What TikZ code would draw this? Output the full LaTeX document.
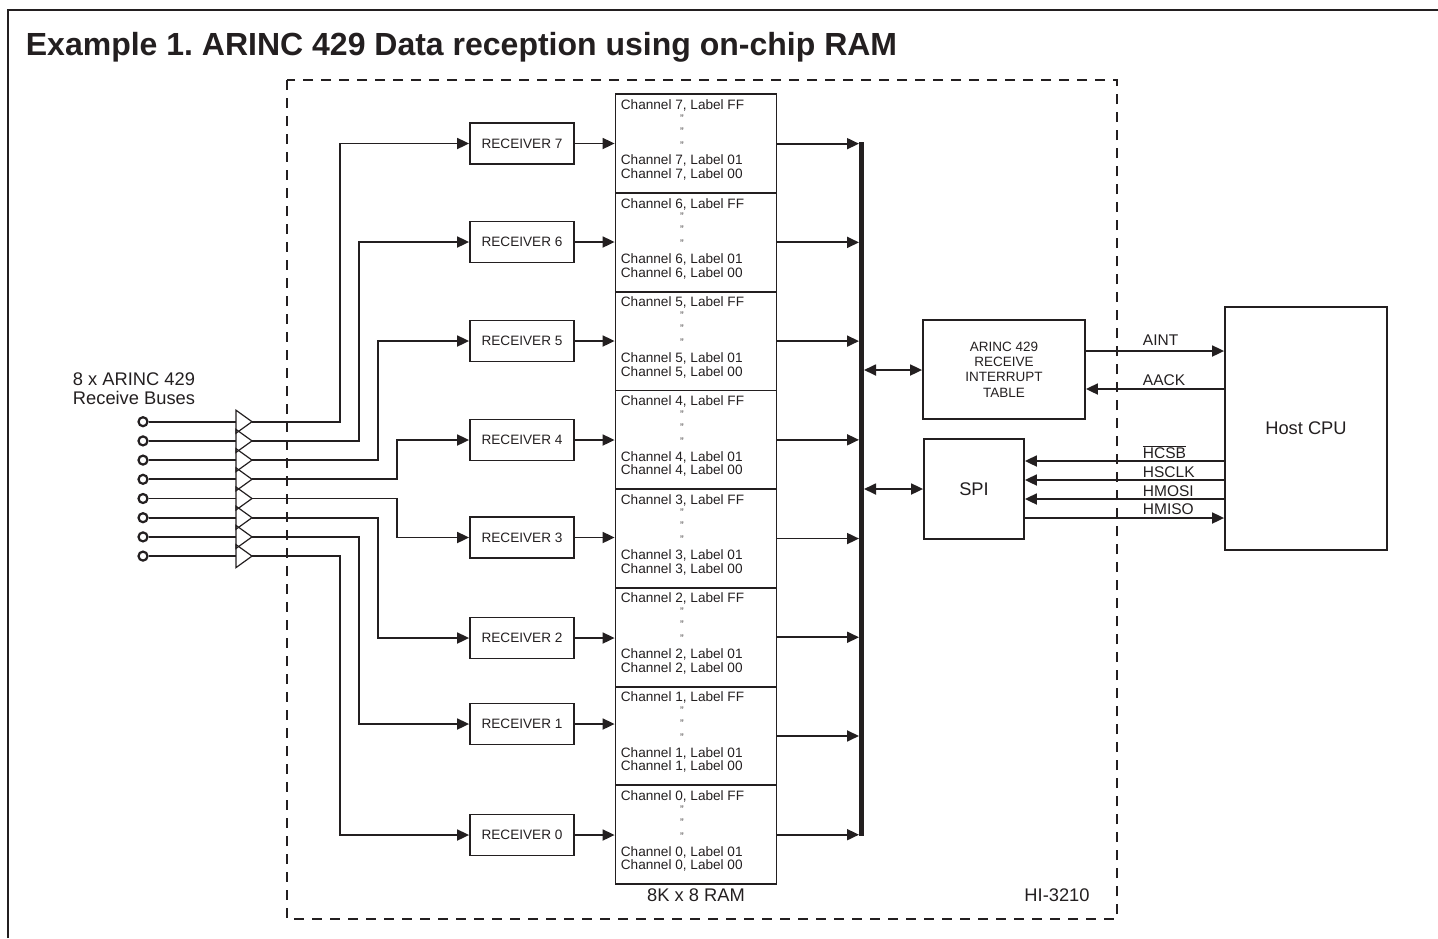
\documentclass[tikz,border=0pt]{standalone}
\usepackage{fontspec}
\setmainfont{Liberation Sans}
\usetikzlibrary{arrows.meta,calc}
\definecolor{ink}{RGB}{35,31,32}
\frenchspacing
\begin{document}
\begin{tikzpicture}[x=1pt,y=-1pt,color=ink,line width=1.8pt,
  box/.style={draw,line width=1.8pt,inner sep=0pt},
  rambox/.style={box,minimum width=161pt,minimum height=98.72pt},
  recbox/.style={box,minimum width=104pt,minimum height=41pt,font=\fontsize{13.6}{15}\selectfont},
  chtext/.style={inner sep=0pt,anchor=west,font=\fontsize{13.6}{15}\selectfont},
  ditto/.style={inner sep=0pt,font=\fontsize{11}{11}\selectfont,text=ink!80},
  sig/.style={inner sep=0pt,anchor=west,font=\fontsize{15.5}{17}\selectfont},
  big/.style={inner sep=0pt,font=\fontsize{18.3}{19}\selectfont},
  tip/.tip={Triangle[length=12pt,width=11pt]},
  arr/.style={-tip},
  darr/.style={tip-tip},
  incirc/.style={circle,draw,fill=white,line width=2.2pt,minimum size=9pt,inner sep=0pt},
  dbox/.style={dash pattern=on 10pt off 8pt,line width=1.7pt}]
\useasboundingbox (0,0) rectangle (1438,938);
% outer frame
\draw[line width=1.6pt] (8,938) -- (8,10) -- (1438,10);
% title
\node[anchor=base west,inner sep=0pt,font=\fontsize{32}{38}\selectfont\bfseries] (title) at (25,55) {Example 1. ARINC 429 Data reception using on-chip RAM};
% chip boundary
\draw[dbox] (287,80) rectangle (1117,919);
\node[big] (chipname) at (1057,895) {HI-3210};
% RAM blocks
\foreach \k in {7,...,0}{
  \pgfmathsetmacro{\ramtop}{94.3+(7-\k)*98.72}
  \node[rambox] (ram\k) at (696,{\ramtop+49.36}) {};
  \node[chtext] at (620,{\ramtop+11}) {Channel \k, Label FF};
  \node[ditto] at (682,{\ramtop+24}) {"};
  \node[ditto] at (682,{\ramtop+37}) {"};
  \node[ditto] at (682,{\ramtop+51}) {"};
  \node[chtext] at (620,{\ramtop+66.6}) {Channel \k, Label 01};
  \node[chtext] at (620,{\ramtop+80.3}) {Channel \k, Label 00};
}
\node[big] (ramname) at (696,895) {8K x 8 RAM};
% receivers
\node[recbox] (rec7) at (522,143.5) {RECEIVER 7};
\node[recbox] (rec6) at (522,242) {RECEIVER 6};
\node[recbox] (rec5) at (522,341) {RECEIVER 5};
\node[recbox] (rec4) at (522,440) {RECEIVER 4};
\node[recbox] (rec3) at (522,537.5) {RECEIVER 3};
\node[recbox] (rec2) at (522,638) {RECEIVER 2};
\node[recbox] (rec1) at (522,724) {RECEIVER 1};
\node[recbox] (rec0) at (522,835) {RECEIVER 0};
% bus
\coordinate (busL) at (859,0);
\coordinate (bustop) at (861.5,142);
\coordinate (busbot) at (861.5,836);
\draw[line width=5pt] (bustop) -- (busbot);
\foreach \k in {0,...,7}{
  \draw[arr] (rec\k.east) -- (rec\k.east -| ram\k.west);
  \draw[arr] (ram\k.east) -- (ram\k.east -| busL);
}
% input buses
\node[big,align=center] (buslabel) at (134,389) {8 x ARINC 429\\Receive Buses};
\foreach \i in {1,...,8}{
  \pgfmathsetmacro{\iny}{421.7+(\i-1)*19.2}
  \coordinate (bb\i) at (236,\iny);
  \coordinate (bt\i) at (252,\iny);
  \draw[line width=1.2pt] ([yshift=11.5pt]bb\i) -- (bt\i) -- ([yshift=-11.5pt]bb\i) -- cycle;
  \node[incirc] (in\i) at (143,\iny) {};
  \draw (in\i) -- (bb\i);
}
\draw[arr] (bt1) -- ++(88,0) |- (rec7.west);
\draw[arr] (bt2) -- ++(107,0) |- (rec6.west);
\draw[arr] (bt3) -- ++(126,0) |- (rec5.west);
\draw[arr] (bt4) -- ++(145,0) |- (rec4.west);
\draw[arr] (bt5) -- ++(145,0) |- (rec3.west);
\draw[arr] (bt6) -- ++(126,0) |- (rec2.west);
\draw[arr] (bt7) -- ++(107,0) |- (rec1.west);
\draw[arr] (bt8) -- ++(88,0) |- (rec0.west);
% right side blocks
\node[box,minimum width=162pt,minimum height=99pt,align=center,font=\fontsize{13.5}{15.2}\selectfont] (table) at (1004,369.5) {ARINC 429\\RECEIVE\\INTERRUPT\\TABLE};
\node[box,minimum width=100pt,minimum height=100pt,font=\fontsize{18.3}{19}\selectfont] (spi) at (974,489) {SPI};
\node[box,minimum width=162pt,minimum height=243pt,font=\fontsize{18.3}{19}\selectfont] (host) at (1306,428.5) {Host CPU};
\coordinate (busR1) at (864,370);
\coordinate (busR2) at (864,489);
\draw[darr] (busR1) -- (busR1 -| table.west);
\draw[darr] (busR2) -- (busR2 -| spi.west);
% host signals
\draw[arr] ([yshift=18.5pt]table.east) -- ([yshift=18.5pt]table.east -| host.west);
\draw[arr] ([yshift=-19.5pt]table.east -| host.west) -- ([yshift=-19.5pt]table.east);
\draw[arr] ([yshift=28pt]spi.east -| host.west) -- ([yshift=28pt]spi.east);
\draw[arr] ([yshift=9pt]spi.east -| host.west) -- ([yshift=9pt]spi.east);
\draw[arr] ([yshift=-10pt]spi.east -| host.west) -- ([yshift=-10pt]spi.east);
\draw[arr] ([yshift=-29pt]spi.east) -- ([yshift=-29pt]spi.east -| host.west);
\node[sig] (laint) at (1142,340) {AINT};
\node[sig] (laack) at (1142,380) {AACK};
\node[sig] (lhcsb) at (1142,451.7) {$\overline{\mbox{HCSB}}$};
\node[sig] (lhsclk) at (1142,471.7) {HSCLK};
\node[sig] (lhmosi) at (1142,491) {HMOSI};
\node[sig] (lhmiso) at (1142,509.5) {HMISO};
\end{tikzpicture}
\end{document}
